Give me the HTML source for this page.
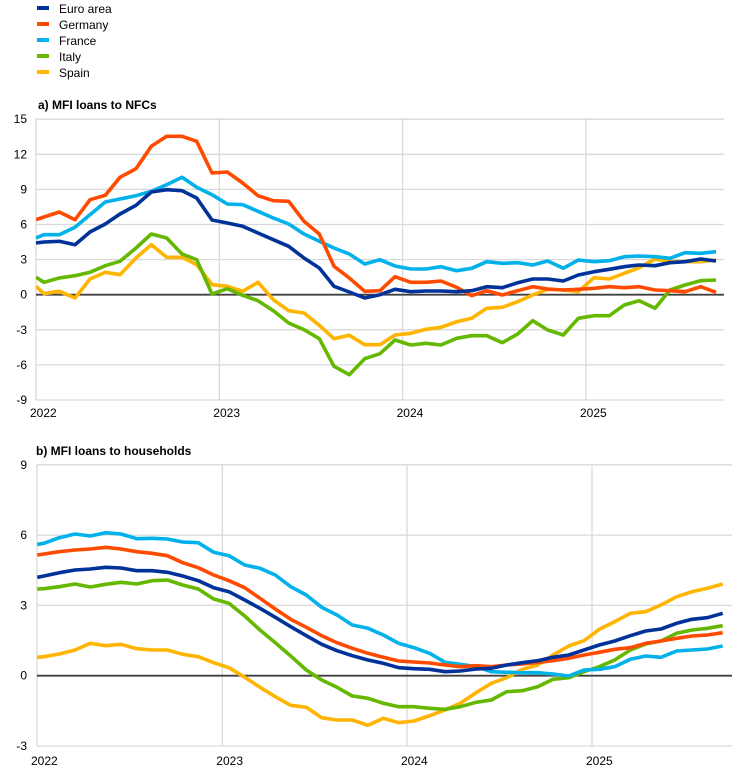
<!DOCTYPE html>
<html><head><meta charset="utf-8"><style>
html,body{margin:0;padding:0;background:#fff;}
svg{display:block;font-family:"Liberation Sans",Arial,sans-serif;}
</style></head><body>
<svg id="s" width="746" height="773" viewBox="0 0 746 773" xmlns="http://www.w3.org/2000/svg">
<defs>
<clipPath id="ca"><rect x="36" y="110" width="688" height="292"/></clipPath>
<clipPath id="cb"><rect x="37" y="455" width="695" height="293"/></clipPath>
</defs>
<g font-size="12" fill="#000">
<rect x="37" y="6" width="12" height="4" fill="#003299"/><text x="59" y="13">Euro area</text>
<rect x="37" y="22" width="12" height="4" fill="#ff4b00"/><text x="59" y="29">Germany</text>
<rect x="37" y="38" width="12" height="4" fill="#00b1ea"/><text x="59" y="45">France</text>
<rect x="37" y="54" width="12" height="4" fill="#65b800"/><text x="59" y="61">Italy</text>
<rect x="37" y="70" width="12" height="4" fill="#ffb400"/><text x="59" y="77">Spain</text>
<text x="38" y="109" font-weight="bold">a) MFI loans to NFCs</text>
<text x="36" y="455" font-weight="bold">b) MFI loans to households</text>
</g>
<g id="grid"></g>
<g id="lines"></g>
<g id="labels" font-size="12" fill="#000"></g>
</svg>
<script>
var NS="http://www.w3.org/2000/svg";
function el(p,t,a,txt){var e=document.createElementNS(NS,t);for(var k in a)e.setAttribute(k,a[k]);if(txt!=null)e.textContent=txt;p.appendChild(e);return e;}
var G=document.getElementById('grid'),L=document.getElementById('lines'),T=document.getElementById('labels');
// panel a
var a0=294.7,as=11.7;
for(var v=15;v>=-9;v-=3){var y=a0-v*as;if(v!=0)el(G,'line',{x1:36,x2:724,y1:y,y2:y,stroke:'#d9d9d9','stroke-width':1.3});el(T,'text',{x:27,y:y+4,'text-anchor':'end'},String(v));}
[36,219.3,402.6,586].forEach(function(x,i){el(G,'line',{x1:x,x2:x,y1:118,y2:400,stroke:'#d9d9d9','stroke-width':1.3});el(T,'text',{x:x-6,y:417},String(2022+i));});
var b0=675.7,bs=23.43;
for(var v=9;v>=-3;v-=3){var y=b0-v*bs;if(v!=0)el(G,'line',{x1:37,x2:732,y1:y,y2:y,stroke:'#d9d9d9','stroke-width':1.3});el(T,'text',{x:27,y:y+4,'text-anchor':'end'},String(v));}
[37,222.3,407,592].forEach(function(x,i){el(G,'line',{x1:x,x2:x,y1:465,y2:746,stroke:'#d9d9d9','stroke-width':1.3});el(T,'text',{x:x-6,y:765},String(2022+i));});
el(G,'line',{x1:36,x2:724,y1:a0,y2:a0,stroke:'#404040','stroke-width':1.8});
el(G,'line',{x1:37,x2:732,y1:b0,y2:b0,stroke:'#404040','stroke-width':1.8});

var C={E:'#003299',D:'#ff4b00',F:'#00b1ea',I:'#65b800',S:'#ffb400'};
// panel a zoom5 (origin 30,118) x list, zoom6 (origin 370,200)
var ax5=[18,42,88,135,180,226,270,318,364,410,456,500,546,592,638,684,730,776,822,868,912,958,1004,1050];
var ax6=[75,122,168,213,260,305,350,397,443,488,533,580,625,672,718,763,808,855,900,945,992,1038];
var A={
D:[[305,297,282,305,245,232,178,152,85,55,55,70,165,162,195,233,248,250,310,348,445,480,520,518],[230,247,247,243,262,287,272,285,272,260,267,270,268,265,260,263,260,270,272,275,260,277]],
F:[[360,350,350,328,290,252,243,233,220,200,178,208,230,258,260,280,300,318,348,370,390,408,438,425],[198,207,207,200,212,205,185,190,188,195,183,205,180,185,182,170,168,170,175,158,160,155]],
I:[[478,493,480,473,463,443,430,390,348,360,408,425,528,512,532,548,578,615,635,662,745,770,722,707],[420,435,430,435,415,407,407,428,402,362,390,405,355,347,347,315,302,325,270,255,242,240]],
S:[[505,527,520,540,483,463,470,420,380,418,418,440,500,505,520,493,545,578,585,622,662,652,680,680],[405,400,388,382,365,355,325,322,305,285,268,270,275,233,237,220,203,177,185,185,185,180]],
E:[[375,372,370,380,342,318,288,262,222,215,218,240,306,315,325,345,365,385,420,450,505,522,540,530],[268,275,273,273,275,272,260,263,248,237,237,243,225,215,208,200,195,197,188,185,177,183]]
};
var bx7=[22,42,88,135,181,227,273,320,366,412,458,505,551,597,644,690,736,782,829,875,921,967,1014];
var bx8=[40,86,132,179,225,271,318,364,410,457,503,549,596,642,688,734,781,827,873,920,966,1012,1058];
var B={
F:[[163,160,143,132,138,128,132,146,145,147,156,158,187,197,225,235,255,290,315,352,375,405,415],[195,220,233,250,277,283,290,305,307,308,308,312,318,300,298,290,268,258,262,243,240,237,228]],
D:[[195,192,185,180,177,172,177,185,190,197,218,233,255,272,293,325,357,388,412,437,458,475,490],[262,273,276,279,285,290,287,290,285,282,277,272,265,255,247,238,233,220,213,205,198,195,188]],
I:[[297,296,290,282,291,283,277,282,272,270,285,297,327,340,378,420,458,498,540,570,592,618,625],[400,410,410,415,418,410,397,390,365,362,350,328,323,305,290,270,240,222,213,190,180,175,167]],
S:[[502,500,492,480,460,467,463,476,480,480,493,500,518,533,562,592,620,646,652,683,690,690,706],[445,458,453,437,420,400,368,340,323,298,285,255,228,212,178,155,130,125,105,80,65,55,42]],
E:[[262,258,248,240,237,232,234,242,242,247,258,272,293,305,330,355,382,410,437,463,482,497,510],[280,293,296,298,305,303,297,295,285,278,272,262,255,240,225,213,197,183,177,160,148,143,130]]
};
['S','I','F','D','E'].forEach(function(k){
 var p=[];
 A[k][0].forEach(function(z,i){p.push((ax5[i]/3+30).toFixed(1)+','+(z/3+118).toFixed(1));});
 A[k][1].forEach(function(z,i){p.push((ax6[i]/3+370).toFixed(1)+','+(z/3+200).toFixed(1));});
 el(L,'polyline',{points:p.join(' '),fill:'none',stroke:C[k],'stroke-width':3.6,'stroke-linejoin':'round','clip-path':'url(#ca)'});
 var q=[];
 B[k][0].forEach(function(z,i){q.push((bx7[i]/3+30).toFixed(1)+','+(z/3+490).toFixed(1));});
 B[k][1].forEach(function(z,i){q.push((bx8[i]/3+370).toFixed(1)+','+(z/3+570).toFixed(1));});
 el(L,'polyline',{points:q.join(' '),fill:'none',stroke:C[k],'stroke-width':3.6,'stroke-linejoin':'round','clip-path':'url(#cb)'});
});
</script>
</body></html>
